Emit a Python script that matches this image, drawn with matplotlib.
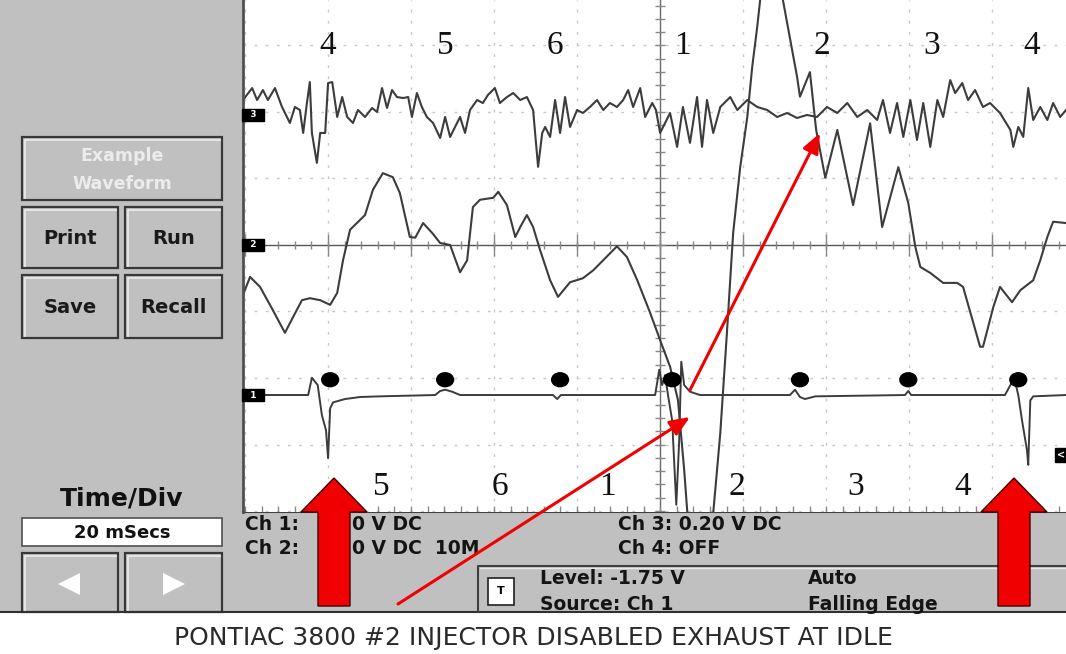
import matplotlib.pyplot as plt
from matplotlib.patches import Rectangle, Polygon, Ellipse

# --- Scope data (time in ms from trigger, 20 ms/div) ---
# Ch 3 : exhaust pulse, mV relative to its ground marker (0.20 V/div)
ch3_t = [-100.5, -98.3, -97.1, -95.7, -94.5, -92.8, -91.1, -89.2, -88.0, -86.8,
         -86.0, -85.1, -84.4, -83.9, -82.7, -81.9, -80.7, -80.0, -79.0, -77.8,
         -76.6, -75.4, -74.0, -72.8, -71.1, -69.4, -68.2, -67.0, -65.8, -64.6,
         -63.4, -61.9, -60.7, -59.8, -58.6, -57.4, -56.2, -54.7, -53.0, -51.8,
         -50.6, -49.4, -48.2, -47.0, -45.8, -44.1, -42.7, -41.5, -39.8, -38.6,
         -36.9, -35.4, -33.7, -32.1, -30.6, -29.4, -28.4, -27.7, -26.5, -25.3,
         -24.1, -22.9, -21.7, -20.0, -18.6, -16.9, -15.2, -13.7, -12.1, -10.4,
         -8.9, -7.7, -6.5, -4.8, -3.6, -1.9, -1.0, 0.0, 2.4, 4.1,
         5.5, 7.2, 8.9, 10.1, 11.3, 12.8, 14.5, 16.9, 18.6, 21.0,
         23.4, 25.8, 28.2, 30.6, 33.0, 35.4, 37.8, 40.2, 42.7, 45.1,
         47.5, 49.9, 52.3, 53.7, 55.4, 57.1, 58.6, 60.3, 61.9, 63.4,
         65.1, 66.8, 68.2, 69.9, 71.1, 72.8, 74.2, 75.9, 77.8, 79.5,
         81.9, 84.4, 85.1, 86.3, 87.5, 88.7, 89.9, 91.6, 93.3, 94.7,
         96.4, 97.8]
ch3_mv = [45, 81, 45, 75, 45, 81, 24, -24, 24, 15,
          -54, 36, 99, -54, -144, -54, -54, 96, 99, -6,
          54, -6, -24, 15, -6, 21, 9, 81, 21, 75,
          54, 51, 54, -6, 66, 24, -6, -24, -69, -6,
          -66, -36, -6, -54, 15, 45, 36, 60, 81, 36,
          54, 66, 45, 54, 15, -156, -54, -36, -66, 45,
          -54, 54, -36, 15, 6, 24, 45, 15, 36, 24,
          45, 75, 24, 81, -6, 36, 15, -54, 6, -96,
          24, -84, 54, -96, 45, -54, 24, 54, 15, 45,
          24, 15, -6, 6, -9, 0, -6, 24, 6, 36,
          -6, 15, -15, 45, -54, 36, -66, 45, -75, 36,
          -96, 45, -6, 105, 66, 96, 45, 75, 24, 36,
          6, -45, -96, -36, -66, 81, -15, 24, -15, 36,
          -6, 15]

# Ch 2 : divisions relative to its ground marker
ch2_t = [-100.5, -98.8, -96.4, -93.3, -90.4, -88.4, -86.3, -84.4, -81.9, -79.5,
         -77.8, -76.4, -74.7, -71.1, -69.2, -66.8, -64.4, -62.7, -60.3, -59.0,
         -57.1, -54.9, -53.0, -50.6, -48.2, -46.5, -45.1, -43.4, -40.2, -39.0,
         -36.9, -34.9, -33.7, -32.1, -30.6, -28.9, -26.5, -24.6, -21.7, -18.6,
         -16.1, -10.4, -8.0, -5.5, -2.4, 0.0, 2.4, 4.3, 5.8, 6.7,
         9.6, 12.8, 14.5, 16.1, 17.6, 19.3, 21.0, 22.2, 23.4, 24.1,
         26.8, 29.6, 33.0, 33.7, 36.1, 37.6, 39.8, 42.7, 46.5, 50.6,
         53.5, 57.4, 59.8, 61.5, 62.7, 65.1, 68.2, 71.6, 73.0, 77.1,
         77.8, 80.3, 81.9, 84.8, 86.8, 89.9, 91.6, 93.3, 94.7, 97.8]
ch2_div = [-0.75, -0.48, -0.63, -0.98, -1.32, -1.08, -0.83, -0.80, -0.83, -0.90,
           -0.72, -0.23, 0.23, 0.45, 0.83, 1.08, 1.02, 0.78, 0.12, 0.11,
           0.33, 0.18, 0.03, 0.00, -0.41, -0.23, 0.57, 0.68, 0.71, 0.80,
           0.60, 0.12, 0.27, 0.45, 0.27, -0.08, -0.53, -0.78, -0.56, -0.50,
           -0.38, -0.02, -0.18, -0.53, -1.02, -1.43, -1.83, -2.33, -3.38, -4.14,
           -5.34, -4.03, -2.83, -1.32, 0.18, 1.17, 1.92, 2.68, 3.28, 3.68,
           4.44, 3.68, 2.53, 2.23, 2.60, 1.73, 1.01, 1.73, 0.60, 1.83,
           0.27, 1.17, 0.63, -0.03, -0.33, -0.42, -0.57, -0.57, -0.63, -1.53,
           -1.53, -0.93, -0.63, -0.86, -0.68, -0.53, -0.23, 0.12, 0.35, 0.33]

# Ch 1 : ignition trigger, divisions relative to its ground marker
ch1_t = [-100.5, -84.8, -83.9, -82.5, -81.5, -80.5, -80.0, -79.5, -78.8, -75.9,
         -72.3, -67.5, -54.2, -53.0, -51.8, -50.1, -48.2, -25.8, -24.8, -23.9,
         -1.2, -0.2, 0.5, 1.2, 1.9, 2.9, 3.9, 4.6, 5.1, 5.8,
         7.2, 9.6, 31.3, 32.5, 33.7, 34.9, 37.4, 59.0, 59.8, 60.5,
         83.1, 84.4, 85.3, 86.3, 87.2, 88.4, 88.7, 89.2, 89.9, 97.8]
ch1_div = [0, 0, 0.26, 0.15, -0.30, -0.53, -0.95, -0.20, -0.11, -0.06,
           -0.03, -0.02, 0, 0.06, 0.08, 0.05, 0, 0, -0.06, 0,
           0, 0.38, 0.15, 0.30, 0, -0.38, -1.65, -0.68, 0.50, 0.15,
           0.05, 0, 0, 0.08, -0.03, -0.06, -0.02, 0, 0.06, 0,
           0, 0.15, 0.26, 0, -0.38, -0.83, -1.05, -0.08, -0.02, 0]

# firing events (dots) and cylinder numbers
event_t = [-79.5, -51.8, -24.1, 2.9, 33.7, 59.8, 86.3]
top_cyl_t = [-80.2, -51.8, -25.3, 5.5, 39.0, 65.5, 89.6]
top_cyl = ["4", "5", "6", "1", "2", "3", "4"]
bot_cyl_t = [-67.2, -38.6, -12.8, 18.6, 47.0, 73.0]
bot_cyl = ["5", "6", "1", "2", "3", "4"]

# channel ground markers (divisions from screen centre)
ch_offset = {"1": -2.256, "2": 0.0, "3": 1.955}

W, H = 1066, 654
GRAY = "#c0c0c0"
TRACE = "#3c3c3c"
RED = "#f00000"
plt.rcParams["font.family"] = ["DejaVu Sans"]

fig = plt.figure(figsize=(W / 100, H / 100), dpi=100)
fig.patch.set_facecolor("white")

# --- UI background (pixel coordinates) ---
ui = fig.add_axes([0, 0, 1, 1], zorder=0)
ui.set_xlim(0, W)
ui.set_ylim(H, 0)
ui.axis("off")
ui.add_patch(Rectangle((0, 0), W, 612, fc=GRAY, ec="none"))
ui.plot([0, W], [612, 612], color="#303030", lw=1.5)


def button(x0, y0, x1, y1):
    ui.add_patch(Rectangle((x0, y0), x1 - x0, y1 - y0, fc=GRAY, ec="#383838", lw=1.6))
    ui.plot([x0 + 2.5, x0 + 2.5, x1 - 2.5], [y1 - 2.5, y0 + 2.5, y0 + 2.5],
            color="#ececec", lw=1.2)


button(22, 137, 222, 200)
ui.text(122, 156, "Example", ha="center", va="center", fontsize=12.5,
        fontweight="bold", color="#ececec")
ui.text(122, 184, "Waveform", ha="center", va="center", fontsize=12.5,
        fontweight="bold", color="#ececec")
for (x0, y0, x1, y1, lab) in [(22, 207, 118, 268, "Print"), (125, 207, 222, 268, "Run"),
                              (22, 275, 118, 338, "Save"), (125, 275, 222, 338, "Recall")]:
    button(x0, y0, x1, y1)
    ui.text((x0 + x1) / 2, (y0 + y1) / 2 + 1, lab, ha="center", va="center",
            fontsize=14, fontweight="bold", color="#1a1a1a")

ui.text(122, 498, "Time/Div", ha="center", va="center", fontsize=18,
        fontweight="bold", color="#111111")
ui.add_patch(Rectangle((22, 518), 200, 28, fc="white", ec="#505050", lw=1.2))
ui.text(122, 533, "20 mSecs", ha="center", va="center", fontsize=13,
        fontweight="bold", color="#111111")
button(22, 553, 118, 612)
button(125, 553, 222, 612)
ui.add_patch(Polygon([(58, 584), (80, 573), (80, 595)], fc="white", ec="none"))
ui.add_patch(Polygon([(185, 584), (163, 573), (163, 595)], fc="white", ec="none"))

# bottom status strip
ui.plot([243, W], [512, 512], color="#404040", lw=1.5)
ui.plot([478, 478, W], [612, 566, 566], color="#404040", lw=1.5)
ui.plot([479.5, W], [567.5, 567.5], color="#e8e8e8", lw=1)
stat = dict(va="center", fontsize=13.5, fontweight="bold", color="#141414")
ui.text(245, 525, "Ch 1:", **stat)
ui.text(352, 525, "0 V DC", **stat)
ui.text(245, 549, "Ch 2:", **stat)
ui.text(352, 549, "0 V DC  10M", **stat)
ui.text(618, 525, "Ch 3: 0.20 V DC", **stat)
ui.text(618, 549, "Ch 4: OFF", **stat)
ui.add_patch(Rectangle((488, 578), 26, 27, fc="white", ec="#202020", lw=1.2))
ui.text(501, 591, "T", ha="center", va="center", fontsize=8, fontweight="bold")
ui.text(540, 578, "Level: -1.75 V", **stat)
ui.text(540, 604, "Source: Ch 1", **stat)
ui.text(808, 578, "Auto", **stat)
ui.text(808, 604, "Falling Edge", **stat)

ui.text(W / 2, 638, "PONTIAC 3800 #2 INJECTOR DISABLED EXHAUST AT IDLE",
        ha="center", va="center", fontsize=18, color="#2a2a2a")

# --- Scope screen ---
sc = fig.add_axes([243 / W, 1 - 512 / H, (W - 243) / W, 512 / H], zorder=1)
sc.set_xlim(-100.5, 97.8)
sc.set_ylim(-4.015, 3.684)
sc.set_facecolor("white")
sc.set_xticks([])
sc.set_yticks([])
for s in sc.spines.values():
    s.set_visible(False)
sc.spines["left"].set_visible(True)
sc.spines["left"].set_color("#505050")
sc.spines["left"].set_linewidth(2)

for t in range(-100, 100, 20):
    if t != 0:
        sc.axvline(t, color="#c8c8c8", lw=1, ls=(0, (2, 6)))
for d in range(-4, 4):
    if d != 0:
        sc.axhline(d, color="#c8c8c8", lw=1, ls=(0, (2, 6)))
sc.axvline(0, color="#6a6a6a", lw=1)
sc.axhline(0, color="#555555", lw=1)
minor_t = [t / 10 for t in range(-1000, 980, 40)]
sc.vlines(minor_t, -0.06, 0.06, color="#888888", lw=1)
sc.vlines([t for t in minor_t if t % 20 == 0], -0.16, 0.16, color="#888888", lw=1)
sc.vlines(minor_t, -4.015, -3.93, color="#888888", lw=1)
minor_d = [d / 10 for d in range(-40, 37, 2)]
sc.hlines(minor_d, -1.2, 1.2, color="#888888", lw=1)

sc.plot(ch3_t, [ch_offset["3"] + v / 200 for v in ch3_mv], color=TRACE, lw=1.5)
sc.plot(ch2_t, [ch_offset["2"] + v for v in ch2_div], color=TRACE, lw=1.5)
sc.plot(ch1_t, [ch_offset["1"] + v for v in ch1_div], color=TRACE, lw=1.4)
for t in event_t:
    sc.add_patch(Ellipse((t, ch_offset["1"] + 0.23), 4.4, 0.23, fc="black",
                         ec="none", zorder=5))

for t, lab in zip(top_cyl_t, top_cyl):
    sc.text(t, 3.0, lab, ha="center", va="center", fontsize=24,
            family="Liberation Serif", color="#111111")
for t, lab in zip(bot_cyl_t, bot_cyl):
    sc.text(t, -3.64, lab, ha="center", va="center", fontsize=24,
            family="Liberation Serif", color="#111111")

for ch, off in ch_offset.items():
    sc.text(-100.3, off, "  " + ch + "  ", ha="left", va="center", fontsize=6.5,
            fontweight="bold", color="white", zorder=6,
            bbox=dict(boxstyle="square,pad=0.15", fc="black", ec="black"))
sc.text(97.6, -3.16, "<", ha="right", va="center", fontsize=7, fontweight="bold",
        color="white", bbox=dict(boxstyle="square,pad=0.2", fc="black", ec="black"))

# --- Red annotation arrows (pixel coordinates, on top) ---
ov = fig.add_axes([0, 0, 1, 1], zorder=2)
ov.set_xlim(0, W)
ov.set_ylim(H, 0)
ov.axis("off")
for cx in [334, 1014]:
    ov.add_patch(Polygon([(cx, 478), (cx + 33, 512), (cx + 16, 512), (cx + 16, 606),
                          (cx - 16, 606), (cx - 16, 512), (cx - 33, 512)],
                         fc=RED, ec="#400000", lw=1))
for (x0, y0, x1, y1) in [(398, 604, 690, 417), (690, 390, 820, 133)]:
    ov.annotate("", xy=(x1, y1), xytext=(x0, y0),
                arrowprops=dict(arrowstyle="-|>,head_length=1.2,head_width=0.5",
                                color=RED, lw=2.2, shrinkA=0, shrinkB=0))

fig.savefig("out.png", dpi=100)
